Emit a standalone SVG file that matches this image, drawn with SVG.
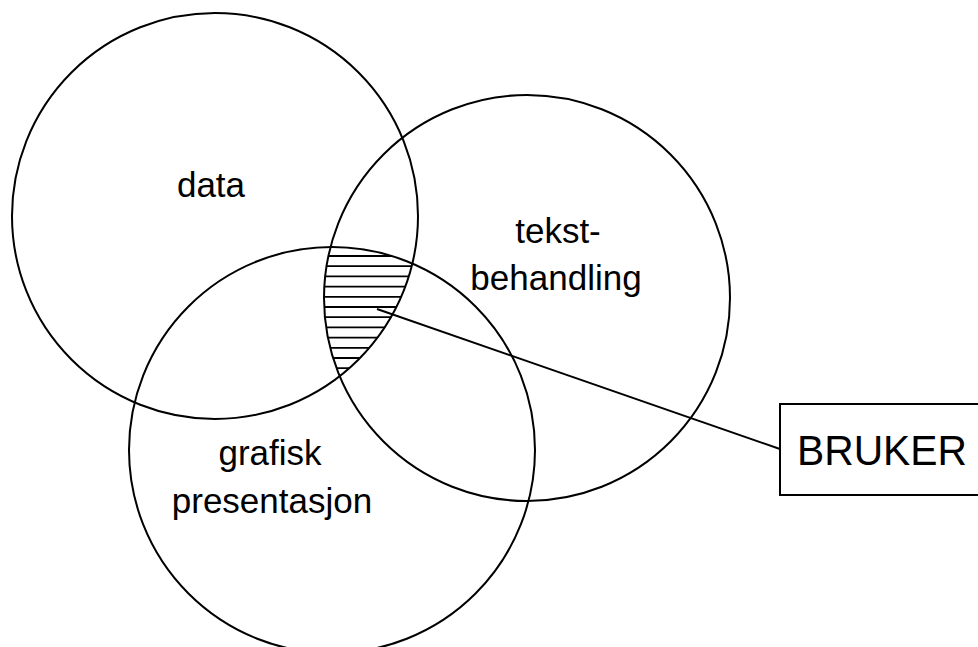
<svg xmlns="http://www.w3.org/2000/svg" width="978" height="647" viewBox="0 0 978 647">
<style>
.c{fill:none;stroke:#000;stroke-width:2}
.h{stroke:#000;stroke-width:1.8}
.t{font-family:"Liberation Sans",Arial,sans-serif;font-size:35px;fill:#000;text-anchor:middle}
</style>
<defs>
<clipPath id="k1"><circle cx="215" cy="216" r="203"/></clipPath>
<clipPath id="k2"><circle cx="527" cy="298" r="203"/></clipPath>
<clipPath id="k3"><circle cx="332" cy="450" r="203"/></clipPath>
</defs>
<rect width="978" height="647" fill="#fff"/>
<g id="hatch" clip-path="url(#k1)"><g clip-path="url(#k2)"><g clip-path="url(#k3)">
<line class="h" x1="300" y1="256" x2="450" y2="256"/>
<line class="h" x1="300" y1="266.2" x2="450" y2="266.2"/>
<line class="h" x1="300" y1="276.4" x2="450" y2="276.4"/>
<line class="h" x1="300" y1="286.6" x2="450" y2="286.6"/>
<line class="h" x1="300" y1="296.8" x2="450" y2="296.8"/>
<line class="h" x1="300" y1="307" x2="450" y2="307"/>
<line class="h" x1="300" y1="317.2" x2="450" y2="317.2"/>
<line class="h" x1="300" y1="327.4" x2="450" y2="327.4"/>
<line class="h" x1="300" y1="337.6" x2="450" y2="337.6"/>
<line class="h" x1="300" y1="347.8" x2="450" y2="347.8"/>
<line class="h" x1="300" y1="358" x2="450" y2="358"/>
<line class="h" x1="300" y1="368.2" x2="450" y2="368.2"/>
</g></g></g>
<g id="data">
<circle class="c" cx="215" cy="216" r="203"/>
<text class="t" x="211" y="197">data</text>
</g>
<g id="tekstbehandling">
<circle class="c" cx="527" cy="298" r="203"/>
<text class="t" x="558" y="243">tekst-</text>
<text class="t" x="556" y="290">behandling</text>
</g>
<g id="grafisk">
<circle class="c" cx="332" cy="450" r="203"/>
<text class="t" x="270" y="465">grafisk</text>
<text class="t" x="272" y="513">presentasjon</text>
</g>
<g id="bruker">
<rect class="c" x="780" y="404" width="210" height="91"/>
<text class="t" x="882" y="465" style="font-size:43px" textLength="170" lengthAdjust="spacingAndGlyphs">BRUKER</text>
</g>
<g id="connectors">
<line class="c" x1="377" y1="309" x2="780" y2="449"/>
</g>
</svg>
